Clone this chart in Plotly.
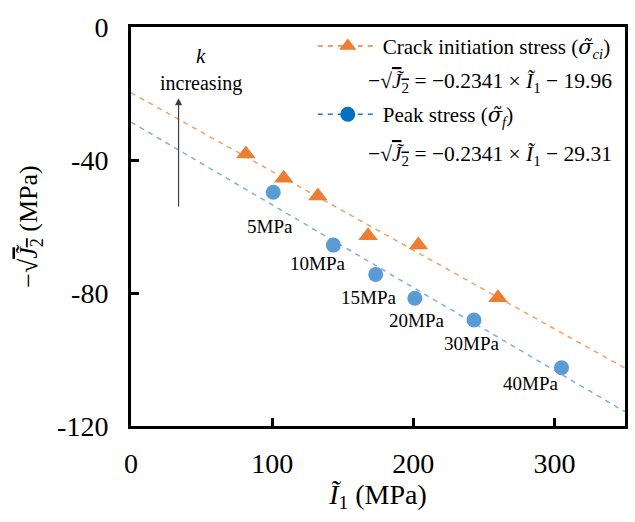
import numpy as np
import plotly.graph_objects as go

# ---- data ----
ci_I1 = [81.4, 108.2, 132.4, 168.0, 203.6, 260.0]
ci_J2 = [-38.2, -45.5, -50.8, -62.8, -65.6, -81.4]
pk_I1 = [100.8, 143.4, 173.4, 201.1, 243.0, 305.0]
pk_J2 = [-49.7, -65.6, -74.4, -81.6, -88.1, -102.5]
pk_labels = ["5MPa", "10MPa", "15MPa", "20MPa", "30MPa", "40MPa"]
label_dx = [-3, -16, -7, 2, -2, -31]
label_dy = [34, 18, 23, 22, 24, 16]
x_tickvals = [0, 100, 200, 300]
x_ticktext = ["0", "100", "200", "300"]
y_tickvals = [0, -40, -80, -120]
y_ticktext = ["0", "-40", "-80", "-120"]
trend_x = [0, 350]

FONT = "Liberation Serif, Times New Roman, serif"
ORANGE = "#ED7D31"
BLUE = "#5B9BD5"
SIG = "<span style='font-family:DejaVu Serif;font-style:italic'>σ̃</span>"

ci_fit = np.polyfit(ci_I1, ci_J2, 1)
pk_fit = np.polyfit(pk_I1, pk_J2, 1)

fig = go.Figure()
# trend lines
fig.add_trace(go.Scatter(x=trend_x, y=np.polyval(ci_fit, trend_x), mode="lines",
                         line=dict(color="#F4A060", width=1.5, dash="5px,5px"),
                         showlegend=False, hoverinfo="skip"))
fig.add_trace(go.Scatter(x=trend_x, y=np.polyval(pk_fit, trend_x), mode="lines",
                         line=dict(color="#7DB0E3", width=1.5, dash="5px,5px"),
                         showlegend=False, hoverinfo="skip"))
# points
fig.add_trace(go.Scatter(x=ci_I1, y=ci_J2, mode="markers",
                         marker=dict(symbol="triangle-up", size=17, color=ORANGE),
                         showlegend=False))
fig.add_trace(go.Scatter(x=pk_I1, y=pk_J2, mode="markers",
                         marker=dict(symbol="circle", size=15, color=BLUE),
                         showlegend=False))
# legend entries
fig.add_trace(go.Scatter(x=[None], y=[None], mode="lines+markers",
                         name="Crack initiation stress (" + SIG + "<sub><i>ci</i></sub>)",
                         legendgroup="a",
                         line=dict(color=ORANGE, width=1.5, dash="5px,5px"),
                         marker=dict(symbol="triangle-up", size=15, color=ORANGE)))
fig.add_trace(go.Scatter(x=[None], y=[None], mode="lines+markers",
                         name="Peak stress (" + SIG + "<sub><i>f</i></sub>)",
                         legendgroup="b",
                         line=dict(color="#2E75B6", width=1.5, dash="5px,5px"),
                         marker=dict(symbol="circle", size=15, color="#0070C0")))

annotations = []
for xi, yi, t, dx, dy in zip(pk_I1, pk_J2, pk_labels, label_dx, label_dy):
    annotations.append(dict(x=xi, y=yi, xref="x", yref="y", text=t, showarrow=False,
                            xshift=dx, yshift=-dy, font=dict(family=FONT, size=19, color="black")))

eq_style = "text-decoration:overline"
annotations.append(dict(x=0.475, y=0.86, xref="paper", yref="paper", xanchor="left", yanchor="middle",
                        showarrow=False,
                        text="−√<span style='%s'><i>J̃</i><sub>2</sub></span> = −0.2341 × <i>Ĩ</i><sub>1</sub> − 19.96" % eq_style,
                        font=dict(family=FONT, size=21.5, color="black")))
annotations.append(dict(x=0.475, y=0.679, xref="paper", yref="paper", xanchor="left", yanchor="middle",
                        showarrow=False,
                        text="−√<span style='%s'><i>J̃</i><sub>2</sub></span> = −0.2341 × <i>Ĩ</i><sub>1</sub> − 29.31" % eq_style,
                        font=dict(family=FONT, size=21.5, color="black")))
# k increasing arrow
annotations.append(dict(x=33.7, y=-21.4, ax=33.7, ay=-54.4, xref="x", yref="y", axref="x", ayref="y",
                        text="", showarrow=True, arrowhead=2, arrowsize=1.2, arrowwidth=1.2,
                        arrowcolor="#404040"))
annotations.append(dict(x=49.4, y=-8.8, xref="x", yref="y", text="<i>k</i>", showarrow=False,
                        font=dict(family=FONT, size=21, color="black")))
annotations.append(dict(x=49.9, y=-17.0, xref="x", yref="y", text="increasing", showarrow=False,
                        font=dict(family=FONT, size=20, color="black")))

fig.update_layout(
    width=635, height=522,
    margin=dict(l=131, r=7, t=27, b=96),
    paper_bgcolor="white", plot_bgcolor="white",
    font=dict(family=FONT, size=28, color="black"),
    annotations=annotations,
    showlegend=True,
    legend=dict(x=0.368, y=1.003, xanchor="left", yanchor="top",
                bgcolor="rgba(0,0,0,0)", tracegroupgap=38, itemwidth=60,
                font=dict(family=FONT, size=21, color="black")),
)
fig.update_xaxes(range=[0, 350], tickvals=x_tickvals, ticktext=x_ticktext,
                 tickfont=dict(family=FONT, size=28, color="black"),
                 showgrid=False, zeroline=False, showline=True, linecolor="black",
                 linewidth=3, mirror=True, ticks="inside", ticklen=8, tickwidth=3,
                 tickcolor="black", ticklabelstandoff=10,
                 title=dict(text="<i>Ĩ</i><sub>1</sub> (MPa)", standoff=2,
                            font=dict(family=FONT, size=28)))
fig.update_yaxes(range=[-120, 0], tickvals=y_tickvals, ticktext=y_ticktext,
                 tickfont=dict(family=FONT, size=28, color="black"),
                 showgrid=False, zeroline=False, showline=True, linecolor="black",
                 linewidth=3, mirror=True, ticks="inside", ticklen=8, tickwidth=3,
                 tickcolor="black", ticklabelstandoff=14,
                 title=dict(text="−√<span style='%s'><i>J̃</i><sub>2</sub></span> (MPa)" % eq_style,
                            standoff=12, font=dict(family=FONT, size=26)))

fig.write_html("out.html")
